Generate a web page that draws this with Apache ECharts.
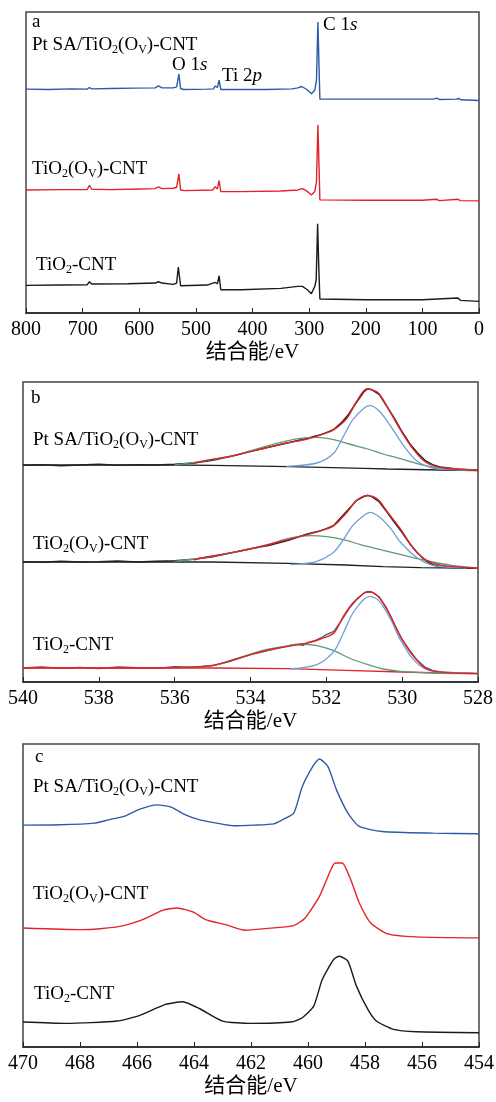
<!DOCTYPE html>
<html>
<head>
<meta charset="utf-8">
<script src="https://cdn.jsdelivr.net/npm/echarts@6/dist/echarts.min.js"></script>
<style>
  html, body { margin: 0; padding: 0; background: #fff; }
  #main { width: 496px; height: 1102px; }
</style>
</head>
<body>
<div id="main"></div>
<script>
// survey spectra, [binding energy eV, intensity a.u.]
const surveyPt = [[800,673],[760,672],[720,674],[692,673],[688,678],[684,674],[650,675],[610,676],[572,677],[566,683],[560,677],[540,677],[534,680],[530,718],[527,675],[522,672],[480,673],[469,674],[466,682],[464.5,688],[462,678],[459,700],[456,672],[430,672],[375,672],[330,674],[320,677],[313,681],[304,672],[296,659],[290,670],[287,700],[284.5,875],[282.5,740],[281,643],[257,643],[140,643],[80,643],[75,646],[70,642],[40,643],[36,645],[32,641],[0,639]]
const surveyOv = [[800,370],[740,371],[692,371],[688,384],[684,372],[650,371],[600,373],[572,374],[566,379],[560,374],[540,375],[534,378],[530,418],[527,370],[520,368],[470,370],[466,380],[464.5,385],[462,373],[459,398],[456,365],[420,365],[350,367],[320,370],[312,374],[305,368],[296,355],[290,365],[287,395],[284.5,565],[282.5,440],[281,340],[200,339],[100,339],[75,342],[70,338],[37,342],[33,338],[0,337]]
const surveyTi = [[800,83],[740,84],[692,85],[688,94],[684,87],[620,88],[572,90],[566,94],[560,90],[540,86],[534,90],[531,138],[527,82],[480,84],[470,90],[466,92],[464.5,95],[462,88],[459,112],[456,70],[420,70],[350,74],[320,80],[312,80],[303,70],[296,58],[290,80],[287.5,100],[285,268],[283,140],[281,42],[200,40],[100,40],[37,45],[33,38],[0,35]]

// O 1s, Pt SA/TiO2(Ov)-CNT
const o1sPtRaw = [[540,650],[539.5,652],[539,649],[538.5,651],[538,653],[537.5,650],[537,652],[536.5,651],[536,653],[535.5,657],[535,665],[534.5,677],[534,692],[533.5,705],[533,718],[532.5,731],[532.2,740],[532,748],[531.8,758],[531.6,778],[531.4,805],[531.2,840],[531,872],[530.9,880],[530.8,877],[530.6,862],[530.4,826],[530.2,790],[530,750],[529.8,715],[529.6,688],[529.4,665],[529.2,652],[529,645],[528.5,638],[528,636]]
const o1sPtBg = [[540,651],[536,651],[535,650],[533,646],[531,641],[530.4,639],[529,636],[528,634]]
const o1sPtOv = [[536,651],[535.3,662],[534.45,679],[533.6,707],[533.1,722],[532.7,731],[532.25,734],[531.8,727],[531.4,714],[530.9,699],[530.5,684],[530.05,670],[529.6,655],[529.2,645],[528.7,639],[528,635]]
const o1sPtLat = [[533.05,647],[532.25,657],[531.8,687],[531.55,737],[531.3,787],[531.0,822],[530.85,829],[530.6,812],[530.3,767],[529.95,707],[529.6,662],[529.2,642],[528.7,637],[528.3,635]]
const o1sPtFit = [[535.5,655],[535.3,662],[534.45,679],[533.6,702],[533.05,717],[532.5,729],[532.05,745],[531.8,757],[531.45,792],[531.2,842],[530.93,879],[530.65,869],[530.4,827],[530.05,757],[529.7,697],[529.35,657],[528.9,642],[528.3,637],[528,635]]

// O 1s, TiO2(Ov)-CNT
const o1sOvRaw = [[540,361],[539.5,359],[539,362],[538.5,360],[538,361],[537.5,363],[537,360],[536.5,362],[536,364],[535.5,368],[535,376],[534.5,388],[534,400],[533.5,410],[533,425],[532.5,444],[532.2,452],[532,460],[531.8,470],[531.6,495],[531.4,520],[531.2,545],[531,557],[530.9,560],[530.8,556],[530.6,540],[530.4,510],[530.2,478],[530,448],[529.8,415],[529.6,388],[529.4,365],[529.2,352],[529,346],[528.5,343],[528,342]]
const o1sOvBg = [[540,360],[535,360],[533,356],[531.5,351],[530.5,346],[529.5,343],[528,341]]
const o1sOvOv = [[536,362],[535.3,372],[534.45,389],[533.6,410],[533.1,428],[532.7,437],[532.4,439],[532,436],[531.55,427],[531.1,412],[530.5,395],[530.05,383],[529.6,370],[529.2,360],[528.7,350],[528,342]]
const o1sOvLat = [[532.95,353],[532.7,354],[532.25,362],[531.8,390],[531.55,427],[531.3,470],[531.0,500],[530.85,509],[530.6,495],[530.3,460],[530.05,420],[529.6,372],[529.2,350],[528.7,344],[528.3,342]]
const o1sOvFit = [[535.5,366],[535.3,372],[534.45,389],[533.9,402],[533.1,425],[532.5,442],[532.05,457],[531.8,469],[531.45,510],[531.2,545],[530.93,559],[530.65,549],[530.4,512],[530.05,460],[529.7,400],[529.35,365],[528.9,349],[528,342]]

// O 1s, TiO2-CNT
const o1sTiRaw = [[540,42],[539.5,45],[539,41],[538.5,44],[538,40],[537.5,45],[537,43],[536.5,41],[536,46],[535.5,44],[535,49],[534.5,63],[534,82],[533.5,96],[533,108],[532.8,113],[532.6,110],[532.5,118],[532.3,124],[532.1,135],[532,142],[531.8,152],[531.6,185],[531.4,220],[531.2,247],[531,268],[530.9,272],[530.8,270],[530.6,255],[530.4,220],[530.2,170],[530,128],[529.8,95],[529.6,65],[529.4,45],[529.2,35],[529,30],[528.5,27],[528,26]]
const o1sTiBg = [[540,42],[535,42],[533,40],[531.5,35],[530,30],[529,27],[528,25]]
const o1sTiOv = [[536,43],[535.3,47],[534.9,51],[534.45,67],[533.6,97],[533.1,107],[532.7,114],[532.25,109],[531.8,94],[531.4,72],[530.9,52],[530.5,39],[530.05,32],[529.2,27],[528,25]]
const o1sTiLat = [[532.95,39],[532.25,52],[531.8,92],[531.55,147],[531.3,207],[531.0,249],[530.84,257],[530.6,242],[530.3,187],[530.05,127],[529.7,67],[529.35,37],[528.9,29],[528.3,26]]
const o1sTiFit = [[540,42],[539,43],[538,42],[537,42],[536,43],[535.3,46],[534.9,52],[534.45,67],[533.9,85],[533.4,99],[532.9,109],[532.5,117],[532.15,129],[531.8,147],[531.55,197],[531.3,237],[531.0,267],[530.84,270],[530.6,252],[530.3,197],[530.05,137],[529.7,77],[529.35,39],[528.9,29],[528,25]]

// Ti 2p
const ti2pPt = [[470,667],[468.7,668],[467.5,673],[467,683],[466.4,695],[465.9,715],[465.3,728],[464.8,721],[464.3,698],[463.8,683],[463.2,673],[462.6,665],[461.9,667],[461.2,671],[460.9,683],[460.5,703],[460.2,783],[459.8,848],[459.6,866],[459.3,843],[459,773],[458.6,703],[458.2,663],[457.4,648],[455.6,643],[454,641]]
const ti2pOv = [[470,358],[467.9,353],[466.7,361],[465.8,383],[465.1,411],[464.6,418],[464,405],[463.6,383],[462.9,368],[462.2,351],[461.5,356],[460.5,365],[460.1,388],[459.6,453],[459.2,533],[459.05,553],[458.8,553],[458.5,503],[458.2,433],[457.8,373],[457.2,340],[456.2,331],[454,328]]
const ti2pTi = [[470,75],[468.5,71],[466.7,78],[465.9,95],[465,128],[464.4,136],[463.8,115],[463,78],[462,71],[460.6,75],[460.2,88],[459.8,123],[459.5,203],[459.1,263],[458.9,273],[458.6,258],[458.3,183],[457.9,113],[457.6,78],[457,53],[456.2,46],[454,43]]

const xTitle = '结合能/eV'
const nameFull = 'Pt SA/TiO{sub|2}(O{sub|V})-CNT'
const nameOv = 'TiO{sub|2}(O{sub|V})-CNT'
const nameTi = 'TiO{sub|2}-CNT'

const SERIF = '"Liberation Serif", "Noto Sans CJK SC", serif'
const BLUE = '#2c5aa8', RED = '#e3222a', BLACK = '#1a1a1a'
const FITBLUE = '#6f9fd6', FITGREEN = '#5e9a78', FITRED = '#df2428'

const rich = {
    sub: { fontSize: 12, fontFamily: SERIF, verticalAlign: 'bottom', lineHeight: 14 },
    it: { fontSize: 19, fontFamily: SERIF, fontStyle: 'italic' }
}

function lab(x, y, text) {
    return {
        type: 'text', x: x, y: y, silent: true,
        style: { text: text, fontSize: 19, fontFamily: SERIF, fill: '#000', verticalAlign: 'middle', lineHeight: 22, rich: rich }
    }
}

function xAxis(i, min, max, interval) {
    return {
        type: 'value', gridIndex: i, inverse: true, min: min, max: max, interval: interval,
        name: xTitle, nameLocation: 'middle', nameGap: 29,
        nameTextStyle: { fontFamily: SERIF, fontSize: 21, color: '#000' },
        axisLine: { lineStyle: { color: '#222', width: 1.5 } },
        axisTick: { inside: true, length: 5, lineStyle: { color: '#222', width: 1 } },
        axisLabel: { fontFamily: SERIF, fontSize: 20, color: '#000', margin: 7 },
        splitLine: { show: false }
    }
}

function yAxis(i, max) {
    return { type: 'value', gridIndex: i, min: 0, max: max, show: false }
}

function line(i, data, color, width, smooth) {
    return {
        type: 'line', xAxisIndex: i, yAxisIndex: i, data: data,
        showSymbol: false, smooth: smooth || 0, silent: true,
        lineStyle: { color: color, width: width }
    }
}

const gridStyle = { show: true, borderColor: '#444', borderWidth: 1.5, outerBoundsMode: 'none' }

const chart = echarts.init(document.getElementById('main'))
chart.setOption({
    animation: false,
    backgroundColor: '#fff',
    grid: [
        Object.assign({ left: 26, top: 12, width: 453, height: 301 }, gridStyle),
        Object.assign({ left: 23, top: 382, width: 455, height: 300 }, gridStyle),
        Object.assign({ left: 23, top: 744, width: 456, height: 303 }, gridStyle)
    ],
    xAxis: [xAxis(0, 0, 800, 100), xAxis(1, 528, 540, 2), xAxis(2, 454, 470, 2)],
    yAxis: [yAxis(0, 905), yAxis(1, 900), yAxis(2, 911)],
    series: [
        line(0, surveyPt, BLUE, 1.4),
        line(0, surveyOv, RED, 1.4),
        line(0, surveyTi, BLACK, 1.4),

        line(1, o1sPtRaw, '#222', 1.5),
        line(1, o1sPtBg, '#222', 1.3),
        line(1, o1sPtOv, FITGREEN, 1.3, 0.3),
        line(1, o1sPtLat, FITBLUE, 1.3, 0.3),
        line(1, o1sPtFit, FITRED, 1.4, 0.3),

        line(1, o1sOvRaw, '#222', 1.5),
        line(1, o1sOvBg, '#222', 1.3),
        line(1, o1sOvOv, FITGREEN, 1.3, 0.3),
        line(1, o1sOvLat, FITBLUE, 1.3, 0.3),
        line(1, o1sOvFit, FITRED, 1.4, 0.3),

        line(1, o1sTiRaw, '#555', 1.3),
        line(1, o1sTiBg, FITRED, 1.3),
        line(1, o1sTiOv, FITGREEN, 1.3, 0.3),
        line(1, o1sTiLat, FITBLUE, 1.3, 0.3),
        line(1, o1sTiFit, FITRED, 1.4, 0.3),

        line(2, ti2pPt, BLUE, 1.4, 0.2),
        line(2, ti2pOv, RED, 1.4, 0.2),
        line(2, ti2pTi, BLACK, 1.4, 0.2)
    ],
    graphic: [
        lab(32, 22, 'a'),
        lab(32, 45, nameFull),
        lab(172, 65, 'O 1{it|s}'),
        lab(222, 76, 'Ti 2{it|p}'),
        lab(323, 25, 'C 1{it|s}'),
        lab(32, 169, nameOv),
        lab(36, 265, nameTi),

        lab(31, 398, 'b'),
        lab(33, 440, nameFull),
        lab(33, 544, nameOv),
        lab(33, 645, nameTi),

        lab(35, 757, 'c'),
        lab(33, 787, nameFull),
        lab(33, 894, nameOv),
        lab(34, 994, nameTi)
    ]
})
</script>
</body>
</html>
